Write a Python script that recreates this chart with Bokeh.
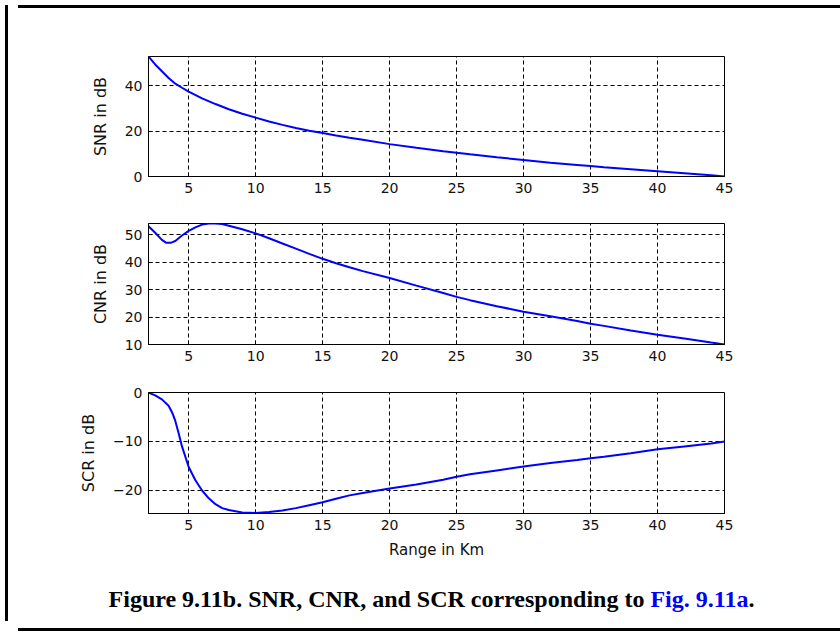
from bokeh.plotting import figure
from bokeh.models import Range1d, FixedTicker, Div
from bokeh.layouts import column, row
from bokeh.embed import file_html
from bokeh.resources import INLINE

# ---------------- data ----------------
snr_range_km = [2, 2.5, 3, 3.5, 4, 4.5, 5, 6, 7, 8, 9, 10, 11, 12, 13, 14, 15, 16, 17, 18,
                20, 22, 24, 25, 26, 28, 30, 32, 34, 35, 36, 38, 40, 42, 44, 45]
snr_db = [53, 49.5, 46.5, 43.5, 41, 39.2, 37.5, 34.5, 32, 29.7, 27.7, 26, 24.3, 22.8, 21.4, 20.2,
          19.2, 18.1, 17.1, 16.2, 14.3, 12.7, 11.2, 10.5, 9.8, 8.5, 7.3, 6.1, 5.1, 4.6, 4.1, 3.2,
          2.3, 1.4, 0.5, 0.0]

cnr_range_km = [2, 2.5, 3, 3.3, 3.7, 4, 4.5, 5, 5.5, 6, 6.5, 7, 7.5, 8, 9, 10, 11, 12, 13, 14, 15,
                16, 17, 18, 20, 22, 24, 25, 26, 28, 30, 32, 34, 35, 36, 38, 40, 42, 44, 45]
cnr_db = [53.2, 50.8, 48.2, 47.2, 47.2, 47.8, 49.8, 51.5, 52.8, 53.8, 54.2, 54.2, 54.0, 53.4, 52.1,
          50.6, 48.8, 46.9, 45.0, 43.1, 41.3, 39.7, 38.2, 36.8, 34.3, 31.5, 28.8, 27.4, 26.2, 24.0,
          22.0, 20.3, 18.6, 17.6, 16.8, 15.1, 13.6, 12.2, 10.7, 10.0]

scr_range_km = [2, 2.5, 3, 3.5, 3.8, 4, 4.25, 4.5, 5, 5.5, 6, 6.5, 7, 7.5, 8, 9, 10, 11, 12, 13, 14,
                15, 16, 17, 18, 20, 22, 24, 25, 26, 28, 30, 32, 34, 35, 36, 38, 40, 42, 44, 45]
scr_db = [0, -0.6, -1.4, -2.7, -4.3, -5.8, -8.3, -11.0, -15.2, -17.9, -20.0, -21.6, -22.8, -23.6,
          -24.0, -24.5, -24.6, -24.4, -24.1, -23.6, -23.0, -22.4, -21.7, -21.0, -20.5, -19.6, -18.8,
          -17.8, -17.2, -16.7, -15.9, -15.1, -14.4, -13.8, -13.4, -13.1, -12.4, -11.6, -11.0, -10.4,
          -10.0]

x_ticks = [5, 10, 15, 20, 25, 30, 35, 40, 45]
snr_ticks = [0, 20, 40]
cnr_ticks = [10, 20, 30, 40, 50]
scr_ticks = [-20, -10, 0]

x_label = "Range in Km"
caption_main = "Figure 9.11b. SNR, CNR, and SCR corresponding to "
caption_link = "Fig. 9.11a"

# ---------------- layout ----------------
W = 826          # content width (right of left frame line)
LEFT = 135
RIGHT = W - 711
FONT = "DejaVu Sans"
FRAME = 3


def make_fig(xs, ys, y_lo, y_hi, yticks, ylabel, top, plot_h, bottom, xlabel=None):
    p = figure(width=W, height=top + plot_h + bottom,
               x_range=Range1d(2, 45), y_range=Range1d(y_lo, y_hi),
               output_backend="svg", toolbar_location=None,
               min_border_left=LEFT, min_border_right=RIGHT,
               min_border_top=top, min_border_bottom=bottom)
    p.background_fill_color = "white"
    p.border_fill_color = "white"
    p.outline_line_color = "black"
    p.outline_line_width = 1
    p.xaxis.ticker = FixedTicker(ticks=x_ticks)
    p.yaxis.ticker = FixedTicker(ticks=yticks)
    for ax in (p.xaxis[0], p.yaxis[0]):
        ax.axis_line_color = "black"
        ax.major_tick_line_color = "black"
        ax.major_tick_in = 4
        ax.major_tick_out = 0
        ax.minor_tick_line_color = None
        ax.major_label_text_font = FONT
        ax.major_label_text_font_size = "14px"
        ax.major_label_text_color = "#111111"
        ax.major_label_standoff = 6
        ax.axis_label_text_font = FONT
        ax.axis_label_text_font_style = "normal"
        ax.axis_label_text_color = "#111111"
    p.yaxis.axis_label = ylabel
    p.yaxis.axis_label_text_font_size = "16px"
    p.yaxis.axis_label_standoff = 12
    if xlabel:
        p.xaxis.axis_label = xlabel
        p.xaxis.axis_label_text_font_size = "15px"
        p.xaxis.axis_label_standoff = 8
    p.grid.grid_line_color = "black"
    p.grid.grid_line_dash = "4 3"
    p.grid.grid_line_width = 1
    p.grid.grid_line_alpha = 1.0
    p.line(xs, ys, line_color="#0000FF", line_width=2)
    return p


TOP_H = 18
top_div = Div(text=('<div style="width:%dpx;height:%dpx;box-sizing:border-box;'
                    'border-top:%dpx solid black;font-size:0;line-height:0;"></div>' % (W, TOP_H, FRAME)),
              width=W, height=TOP_H)

f1 = make_fig(snr_range_km, snr_db, 0, 53, snr_ticks, "SNR in dB", 28, 120, 31)
f2 = make_fig(cnr_range_km, cnr_db, 10, 54.2, cnr_ticks, "CNR in dB", 16, 121, 31)
f3 = make_fig(scr_range_km, scr_db, -24.7, 0, scr_ticks, "SCR in dB", 17, 121, 52, xlabel=x_label)

CAP_H = 61
cap = Div(text=('<div style="width:%dpx;height:%dpx;box-sizing:border-box;'
                'border-bottom:%dpx solid black;'
                'font-family:\'Liberation Serif\',\'Times New Roman\',serif;'
                'font-weight:bold;font-size:24px;text-align:center;padding-left:1px;'
                'padding-top:12px;color:#000000;white-space:nowrap;">' % (W, CAP_H, FRAME)
                + caption_main + '<span style="color:#0000FF">' + caption_link + '</span>.</div>'),
          width=W, height=CAP_H)

content = column(top_div, f1, f2, f3, cap, spacing=0)
content_h = TOP_H + f1.height + f2.height + f3.height + CAP_H

left_line = Div(text='<div style="width:%dpx;height:%dpx;background:black;"></div>' % (FRAME, content_h),
                width=FRAME, height=content_h)

layout = row(left_line, content, spacing=0)

open("out.html", "w").write(file_html(layout, INLINE))
